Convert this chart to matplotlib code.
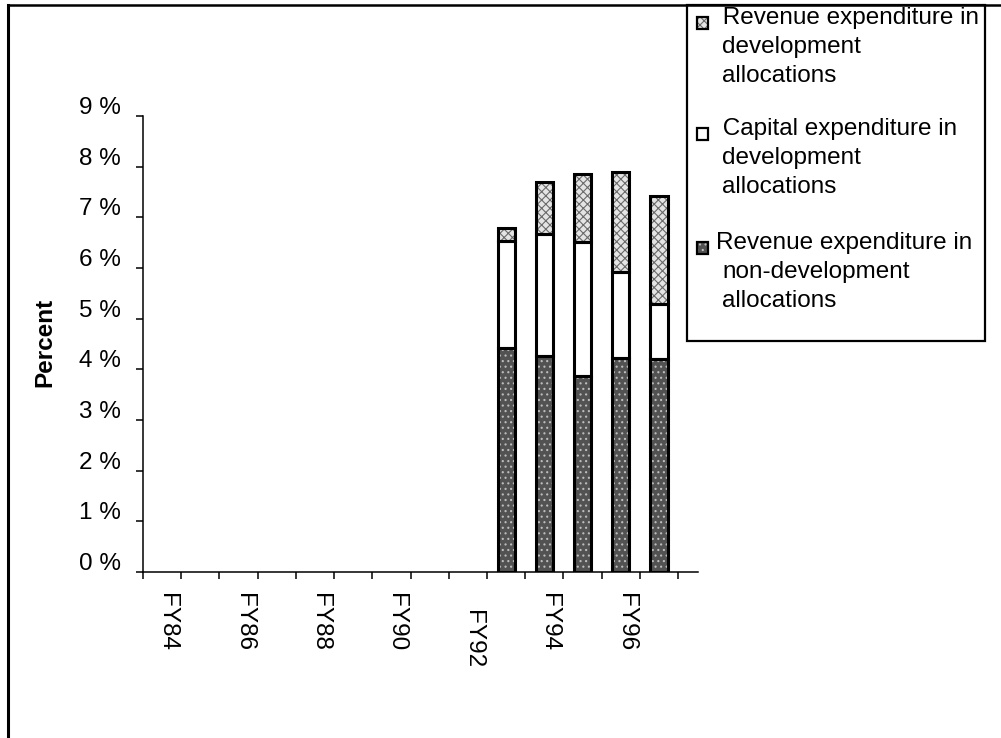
import numpy as np
import matplotlib
matplotlib.use("Agg")
import matplotlib.pyplot as plt
from matplotlib.patches import Rectangle
from matplotlib.lines import Line2D
import matplotlib.transforms as mtransforms

plt.rcParams['font.family'] = ['Liberation Sans', 'DejaVu Sans']
plt.rcParams['hatch.linewidth'] = 0.8

# Fiscal years on the category axis
years = ['FY84', 'FY85', 'FY86', 'FY87', 'FY88', 'FY89', 'FY90',
         'FY91', 'FY92', 'FY93', 'FY94', 'FY95', 'FY96', 'FY97']
shown_labels = ['FY84', 'FY86', 'FY88', 'FY90', 'FY92', 'FY94', 'FY96']

# Years with data (percent)
bar_years = ['FY93', 'FY94', 'FY95', 'FY96', 'FY97']
rev_nondev = [4.42, 4.26, 3.87, 4.23, 4.20]
cap_dev = [2.11, 2.41, 2.64, 1.69, 1.09]
rev_dev = [0.26, 1.03, 1.34, 1.98, 2.13]

y_ticks = [0, 1, 2, 3, 4, 5, 6, 7, 8, 9]

legend_labels = [
    ' Revenue expenditure in\ndevelopment\nallocations',
    ' Capital expenditure in\ndevelopment\nallocations',
    'Revenue expenditure in\nnon-development\nallocations',
]

# segment styles: (face, hatch, hatch colour)
styles = {
    'rev_dev': ('#e4e4e4', 'xxxx', '#6a6a6a'),
    'cap_dev': ('white', None, 'white'),
    'rev_nondev': ('#525252', '...', '#bdbdbd'),
}

W, H = 1001, 738
fig = plt.figure(figsize=(W / 100, H / 100), dpi=100)
fig.patch.set_facecolor('white')


def px(x, y):
    return x / W, 1 - y / H


ax = fig.add_axes([143 / W, 1 - 572 / H, 555 / W, 456 / H])
ax.set_xlim(-0.5, 14.02)
ax.set_ylim(0, 9)
for s in ['top', 'right']:
    ax.spines[s].set_visible(False)
ax.spines['left'].set_linewidth(1.1)
ax.spines['bottom'].set_linewidth(1.1)

bar_w = 0.45
x = np.array([years.index(y) for y in bar_years])
segments = [('rev_nondev', rev_nondev), ('cap_dev', cap_dev), ('rev_dev', rev_dev)]
bottom = np.zeros(len(x))
for key, vals in segments:
    face, hatch, hcol = styles[key]
    vals = np.array(vals)
    ax.bar(x, vals, bar_w, bottom=bottom, color=face, hatch=hatch,
           edgecolor=hcol, linewidth=0, zorder=2)
    ax.bar(x, vals, bar_w, bottom=bottom, facecolor='none',
           edgecolor='black', linewidth=2.2, zorder=3)
    bottom += vals

# ticks between categories, labels drawn as text
ax.set_xticks(np.arange(-0.5, len(years), 1))
ax.set_xticklabels([])
ax.tick_params(axis='x', direction='out', length=5, width=1.1)
ax.set_yticks(y_ticks)
ax.set_yticklabels([])
ax.tick_params(axis='y', direction='out', length=5, width=1.1)

xl_tr = mtransforms.blended_transform_factory(ax.transData, ax.transAxes)
for lab in shown_labels:
    drop = 38 if lab == 'FY92' else 21
    off = mtransforms.ScaledTranslation(5 / 100, -drop / 100, fig.dpi_scale_trans)
    ax.text(years.index(lab), 0, lab, transform=xl_tr + off, rotation=-90,
            ha='center', va='top', fontsize=17.5)

yl_tr = mtransforms.blended_transform_factory(ax.transAxes, ax.transData)
off_y = mtransforms.ScaledTranslation(-22 / 100, 8 / 100, fig.dpi_scale_trans)
for v in y_ticks:
    ax.text(0, v, f'{v} %', transform=yl_tr + off_y, ha='right', va='center',
            fontsize=17.5)

fig.text(*px(45, 342), 'Percent', rotation=90, ha='center', va='center',
         fontsize=17.5, fontweight='bold')

# page frame
fig.add_artist(Line2D([8 / W, 8 / W], [0, 1 - 5 / H], color='black', lw=2.2))
fig.add_artist(Line2D([8 / W, 1], [1 - 5 / H, 1 - 5 / H], color='black', lw=1.8))

# legend box
lx0, ly0, lx1, ly1 = 687, 5, 985, 341
fig.add_artist(Rectangle(px(lx0, ly1), (lx1 - lx0) / W, (ly1 - ly0) / H,
                         facecolor='white', edgecolor='black', lw=1.6))
legend_keys = ['rev_dev', 'cap_dev', 'rev_nondev']
first_line_y = [18, 129, 243]
line_step = 29
for key, label, y0 in zip(legend_keys, legend_labels, first_line_y):
    face, hatch, hcol = styles[key]
    mx, my, ms = 697, y0 + 5, 11
    fig.add_artist(Rectangle(px(mx, my + ms / 2), ms / W, ms / H,
                             facecolor=face, hatch=hatch, edgecolor=hcol, lw=0))
    fig.add_artist(Rectangle(px(mx, my + ms / 2), ms / W, ms / H,
                             facecolor='none', edgecolor='black', lw=1.6))
    for i, line in enumerate(label.split('\n')):
        tx = 716 if i == 0 else 722
        fig.text(*px(tx, y0 + i * line_step), line, ha='left', va='center',
                 fontsize=17.5)

fig.savefig('out.png', dpi=100, facecolor='white')
